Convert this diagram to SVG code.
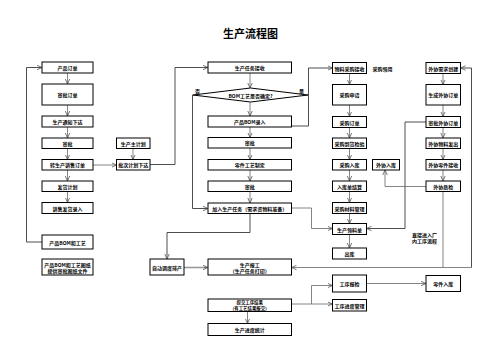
<svg xmlns="http://www.w3.org/2000/svg" width="503" height="355" viewBox="0 0 503 355">
<style>
.b{fill:#fff;stroke:#000;stroke-width:1}
.t{font-family:"Noto Sans CJK SC","Noto Sans",sans-serif;font-size:5px;font-weight:bold;text-anchor:middle;dominant-baseline:central;fill:#000}
.l{font-family:"Noto Sans CJK SC","Noto Sans",sans-serif;font-size:5px;font-weight:bold;fill:#000;dominant-baseline:central}
.c{fill:none;stroke:#666;stroke-width:0.8}
.k{fill:none;stroke:#222;stroke-width:0.8}
</style>
<defs>
<marker id="a" markerWidth="6" markerHeight="6" refX="5" refY="3" orient="auto" markerUnits="userSpaceOnUse"><path d="M0,0.8 L5,3 L0,5.2" fill="none" stroke="#555" stroke-width="0.8"/></marker>
</defs>
<rect width="503" height="355" fill="#fff"/>
<text x="250.5" y="33" font-family="'Noto Sans CJK SC',sans-serif" font-size="11" font-weight="bold" text-anchor="middle" dominant-baseline="central">生产流程图</text>
<g id="connectors">
<path class="c" marker-end="url(#a)" d="M67.5,73 V84"/>
<path class="c" marker-end="url(#a)" d="M67.5,105 V116"/>
<path class="c" marker-end="url(#a)" d="M67.5,127 V138"/>
<path class="c" marker-end="url(#a)" d="M67.5,148.5 V159.5"/>
<path class="c" marker-end="url(#a)" d="M67.5,170 V181"/>
<path class="c" marker-end="url(#a)" d="M67.5,191.5 V202.5"/>
<path class="k" marker-end="url(#a)" d="M42,242 H26.5 V67.5 H42"/>
<path class="c" marker-end="url(#a)" d="M93,165 H116.5"/>
<path class="c" marker-end="url(#a)" d="M133,148.5 V159.5"/>
<path class="k" marker-end="url(#a)" d="M150,164.5 H175 V67.5 H208"/>
<path class="c" marker-end="url(#a)" d="M250,73 V88"/>
<path class="c" marker-end="url(#a)" d="M250,102 V116"/>
<path class="c" marker-end="url(#a)" d="M250,127 V137.5"/>
<path class="c" marker-end="url(#a)" d="M250,148 V159.5"/>
<path class="c" marker-end="url(#a)" d="M250,170 V181"/>
<path class="c" marker-end="url(#a)" d="M250,191.5 V203"/>
<path class="k" marker-end="url(#a)" d="M193,95 H192.5 V208.5 H208"/>
<path class="k" marker-end="url(#a)" d="M291.5,126 H308.5 V68 H332.5"/>
<path class="k" marker-end="url(#a)" d="M250,213.5 V232.5 H167 V259"/>
<path class="c" marker-end="url(#a)" d="M291.5,208 H311.5 V228.5 H332.5"/>
<path fill="none" stroke="#999" stroke-width="1.6" d="M184,267.5 H206"/>
<path class="c" marker-end="url(#a)" d="M204,267.5 H208"/>
<path class="c" marker-end="url(#a)" d="M247.5,311.5 V323.5"/>
<path class="c" marker-end="url(#a)" d="M291.5,304 H332.5"/>
<path class="c" marker-end="url(#a)" d="M311.5,304 V285.5 H332.5"/>
<path class="c" marker-end="url(#a)" d="M366.5,283.5 H426"/>
<path class="c" marker-end="url(#a)" d="M349.5,73.5 V84.5"/>
<path class="c" marker-end="url(#a)" d="M349.5,105 V116.5"/>
<path class="c" marker-end="url(#a)" d="M349.5,127.5 V138"/>
<path class="c" marker-end="url(#a)" d="M349.5,148.5 V159.5"/>
<path class="c" marker-end="url(#a)" d="M349.5,170 V181"/>
<path class="c" marker-end="url(#a)" d="M349.5,191.5 V202.5"/>
<path class="c" marker-end="url(#a)" d="M349.5,213.5 V223.5"/>
<path class="c" marker-end="url(#a)" d="M349.5,234.5 V248"/>
<path class="k" marker-end="url(#a)" d="M426,122 H405 V228.5 H366.5"/>
<path class="c" marker-end="url(#a)" d="M443,73.5 V84.5"/>
<path class="c" marker-end="url(#a)" d="M443,105 V116.5"/>
<path class="c" marker-end="url(#a)" d="M443,127.5 V138"/>
<path class="c" marker-end="url(#a)" d="M443,148.5 V159.5"/>
<path class="c" marker-end="url(#a)" d="M443,170 V181"/>
<path class="c" marker-end="url(#a)" d="M426,186.5 H385 V170"/>
<path class="c" d="M443,191.5 V267.5"/>
<path class="c" marker-end="url(#a)" d="M471.5,267.5 H291.5"/>
<path class="k" marker-end="url(#a)" d="M471.5,267.5 V68 H460.5"/>
</g>
<g id="n1"><rect class="b" x="42" y="62" width="51" height="11"/><text class="t" x="67.5" y="67.5">产品订单</text></g>
<g id="n2"><rect class="b" x="42" y="84" width="51" height="21"/><text class="t" x="67.5" y="94.5">审批订单</text></g>
<g id="n3"><rect class="b" x="42" y="116" width="51" height="11"/><text class="t" x="67.5" y="121.5">生产通知下达</text></g>
<g id="n4"><rect class="b" x="42" y="138" width="51" height="10.5"/><text class="t" x="67.5" y="143.2">审批</text></g>
<g id="n5"><rect class="b" x="42" y="159.5" width="51" height="10.5"/><text class="t" x="67.5" y="164.7">转生产销售订单</text></g>
<g id="n6"><rect class="b" x="42" y="181" width="51" height="10.5"/><text class="t" x="67.5" y="186.2">发货计划</text></g>
<g id="n7"><rect class="b" x="42" y="202.5" width="51" height="11"/><text class="t" x="67.5" y="208">销售发货录入</text></g>
<g id="n8"><rect class="b" x="42" y="235" width="51" height="14"/><text class="t" x="67.5" y="242">产品BOM和工艺</text></g>
<g id="n9"><rect class="b" x="42" y="259" width="51" height="16"/><text class="t" x="67.5" y="264">产品BOM和工艺图纸</text><text class="t" x="67.5" y="270.5">提供审批图纸文件</text></g>
<g id="n10"><rect class="b" x="116.5" y="138" width="33.5" height="10.5"/><text class="t" x="133.2" y="143.2">生产主计划</text></g>
<g id="n11"><rect class="b" x="116.5" y="159.5" width="33.5" height="10.5"/><text class="t" x="133.2" y="164.7">批次计划下达</text></g>
<g id="n12"><rect class="b" x="150" y="259" width="34" height="16"/><text class="t" x="167" y="267">自动调度排产</text></g>
<g id="n13"><rect class="b" x="208" y="62" width="83.5" height="11"/><text class="t" x="249.7" y="67.5">生产任务接收</text></g>
<g id="d1"><polygon class="b" points="193,95 250.5,88 308,95 250.5,102"/><text class="t" x="250.5" y="95">BOM工艺是否确定?</text><text class="l" x="195" y="90.5">否</text><text class="l" x="299" y="90.5">是</text></g>
<g id="n14"><rect class="b" x="208" y="116" width="83.5" height="11"/><text class="t" x="249.7" y="121.5">产品BOM录入</text></g>
<g id="n15"><rect class="b" x="208" y="137.5" width="83.5" height="10.5"/><text class="t" x="249.7" y="142.7">审批</text></g>
<g id="n16"><rect class="b" x="208" y="159.5" width="83.5" height="10.5"/><text class="t" x="249.7" y="164.7">零件工艺制定</text></g>
<g id="n17"><rect class="b" x="208" y="181" width="83.5" height="10.5"/><text class="t" x="249.7" y="186.2">审批</text></g>
<g id="n18"><rect class="b" x="208" y="203" width="83.5" height="10.5"/><text class="t" x="249.7" y="208.2">加入生产任务（需求资物料准备）</text></g>
<g id="n19"><rect class="b" x="208" y="259" width="83.5" height="16"/><text class="t" x="249.7" y="264">生产报工</text><text class="t" x="249.7" y="270.5">（生产任务打印）</text></g>
<g id="n20"><rect class="b" x="208" y="299" width="83.5" height="12.5"/><text class="t" x="249.7" y="302.3" style="font-size:4.4px">提交工序结果</text><text class="t" x="249.7" y="308.3" style="font-size:4.4px">（有工艺结果报交）</text></g>
<g id="n21"><rect class="b" x="208" y="323.5" width="83.5" height="12"/><text class="t" x="249.7" y="329.5">生产进度统计</text></g>
<g id="n22"><rect class="b" x="332.5" y="62.5" width="34" height="11"/><text class="t" x="349.5" y="68">物料采购接收</text></g>
<text class="l" x="372.5" y="68">采购领用</text>
<g id="n23"><rect class="b" x="332.5" y="84.5" width="34" height="20.5"/><text class="t" x="349.5" y="94.7">采购申请</text></g>
<g id="n24"><rect class="b" x="332.5" y="116.5" width="34" height="11"/><text class="t" x="349.5" y="122">采购订单</text></g>
<g id="n25"><rect class="b" x="332.5" y="138" width="34" height="10.5"/><text class="t" x="349.5" y="143.2">采购到货检验</text></g>
<g id="n26"><rect class="b" x="332.5" y="159.5" width="34" height="10.5"/><text class="t" x="349.5" y="164.7">采购入库</text></g>
<g id="n27"><rect class="b" x="332.5" y="181" width="34" height="10.5"/><text class="t" x="349.5" y="186.2">入库单结算</text></g>
<g id="n28"><rect class="b" x="332.5" y="202.5" width="34" height="11"/><text class="t" x="349.5" y="208">采购材料管理</text></g>
<g id="n29"><rect class="b" x="332.5" y="223.5" width="34" height="11"/><text class="t" x="349.5" y="229">生产领料单</text></g>
<g id="n30"><rect class="b" x="332.5" y="248" width="34" height="11"/><text class="t" x="349.5" y="253.5">出库</text></g>
<g id="n31"><rect class="b" x="332.5" y="275" width="34" height="17"/><text class="t" x="349.5" y="283.5">工序报检</text></g>
<g id="n32"><rect class="b" x="332.5" y="299.5" width="34" height="11.5"/><text class="t" x="349.5" y="305.2">工序进度管理</text></g>
<g id="n33"><rect class="b" x="372.5" y="159.5" width="27" height="10.5"/><text class="t" x="386" y="164.7">外协入库</text></g>
<text class="l" x="412" y="234">直接进入厂</text>
<text class="l" x="412" y="240">内工序流程</text>
<g id="n34"><rect class="b" x="426" y="62.5" width="34.5" height="11"/><text class="t" x="443.2" y="68">外协需求创建</text></g>
<g id="n35"><rect class="b" x="426" y="84.5" width="34.5" height="20.5"/><text class="t" x="443.2" y="94.7">生成外协订单</text></g>
<g id="n36"><rect class="b" x="426" y="116.5" width="34.5" height="11"/><text class="t" x="443.2" y="122">审批外协订单</text></g>
<g id="n37"><rect class="b" x="426" y="138" width="34.5" height="10.5"/><text class="t" x="443.2" y="143.2">外协物料发出</text></g>
<g id="n38"><rect class="b" x="426" y="159.5" width="34.5" height="10.5"/><text class="t" x="443.2" y="164.7">外协零件接收</text></g>
<g id="n39"><rect class="b" x="426" y="181" width="34.5" height="10.5"/><text class="t" x="443.2" y="186.2">外协质检</text></g>
<g id="n40"><rect class="b" x="426" y="275.5" width="34.5" height="16"/><text class="t" x="443.2" y="283.5">零件入库</text></g>
</svg>
